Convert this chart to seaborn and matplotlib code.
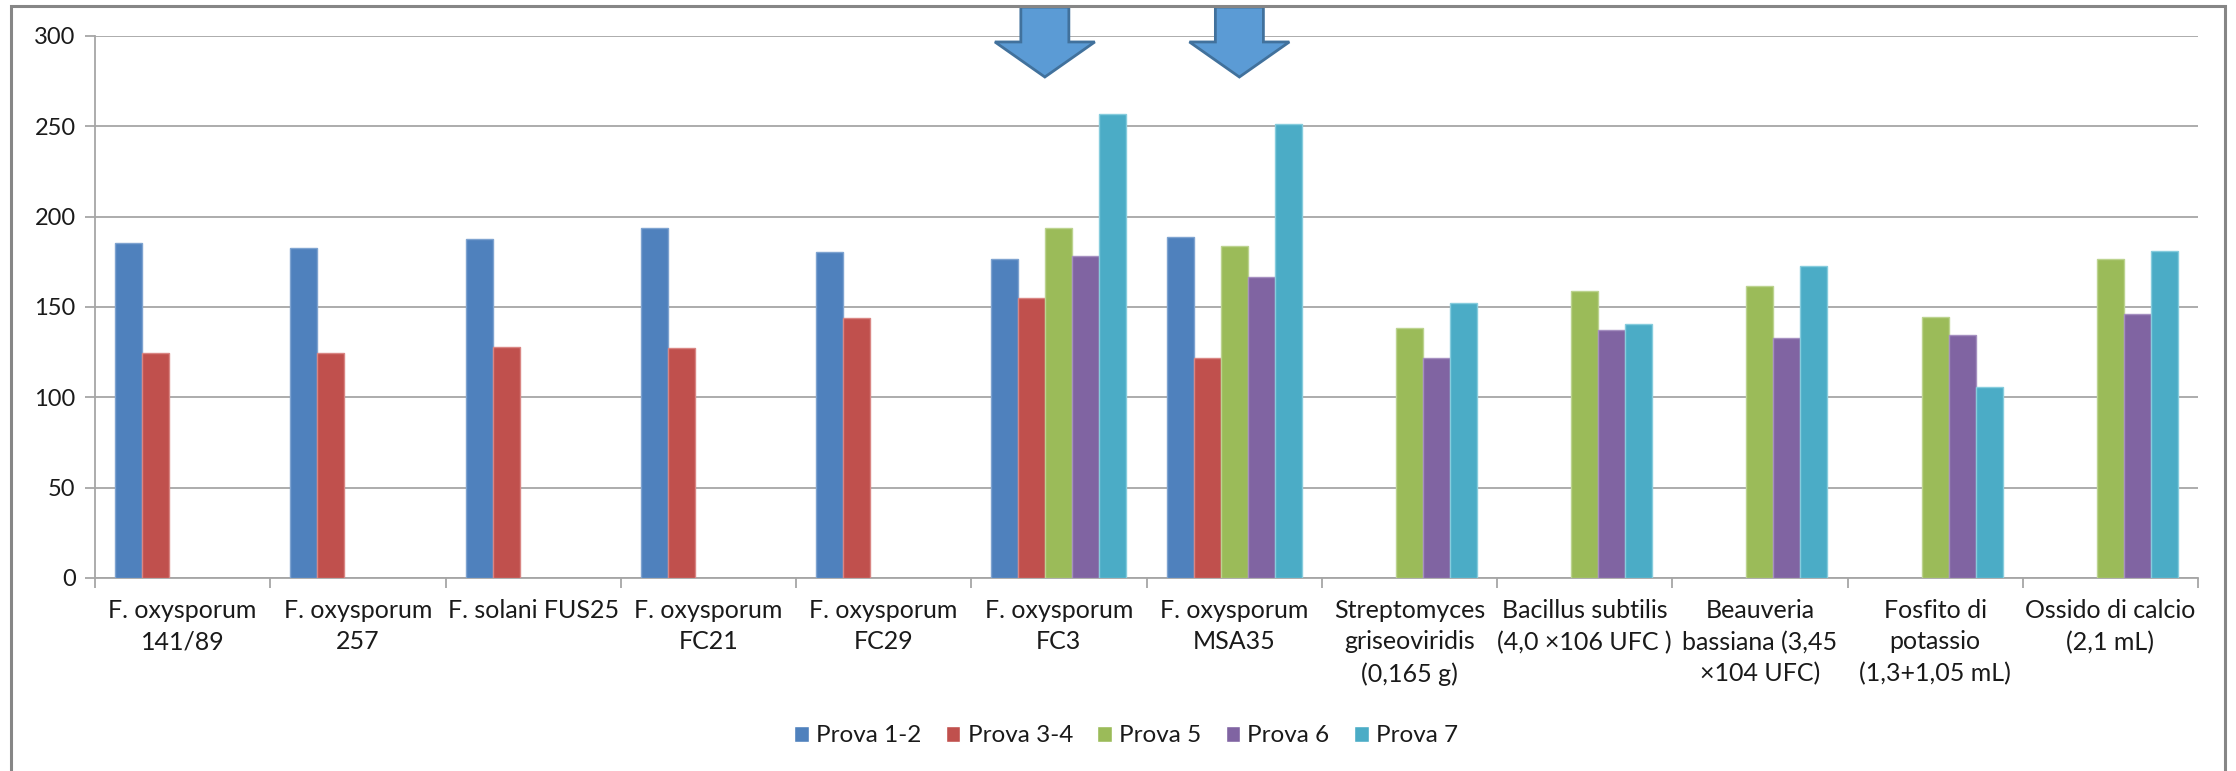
import matplotlib
matplotlib.use("Agg")
import matplotlib.pyplot as plt
from matplotlib.patches import Polygon, Rectangle
import numpy as np
import pandas as pd
import seaborn as sns

# Categories (treatments) shown on the x axis
categorie = [
    "F. oxysporum\n141/89",
    "F. oxysporum\n257",
    "F. solani FUS25",
    "F. oxysporum\nFC21",
    "F. oxysporum\nFC29",
    "F. oxysporum\nFC3",
    "F. oxysporum\nMSA35",
    "Streptomyces\ngriseoviridis\n(0,165 g)",
    "Bacillus subtilis\n(4,0 ×106 UFC )",
    "Beauveria\nbassiana (3,45\n×104 UFC)",
    "Fosfito di\npotassio\n(1,3+1,05 mL)",
    "Ossido di calcio\n(2,1 mL)",
]

prove = ["Prova 1-2", "Prova 3-4", "Prova 5", "Prova 6", "Prova 7"]

# Values per trial (None = trial not carried out for that treatment)
prova_1_2 = [185.4, 182.5, 187.5, 193.9, 180.5, 176.8, 188.8, None, None, None, None, None]
prova_3_4 = [124.4, 124.4, 128.0, 127.1, 144.0, 154.8, 121.6, None, None, None, None, None]
prova_5 = [None, None, None, None, None, 193.7, 183.8, 138.5, 159.0, 161.8, 144.3, 176.4]
prova_6 = [None, None, None, None, None, 178.2, 166.8, 121.6, 137.1, 132.8, 134.3, 146.0]
prova_7 = [None, None, None, None, None, 256.8, 251.1, 152.4, 140.6, 172.5, 105.9, 181.2]

colori = ["#4F81BD", "#C0504D", "#9BBB59", "#8064A2", "#4BACC6"]
bordi = ["#7EA3D0", "#D98583", "#BCD38F", "#A58FC0", "#86CCDD"]

serie = [prova_1_2, prova_3_4, prova_5, prova_6, prova_7]
righe = []
for nome, valori in zip(prove, serie):
    for cat, v in zip(categorie, valori):
        if v is not None:
            righe.append({"categoria": cat, "prova": nome, "valore": v})
df = pd.DataFrame(righe)

sns.set_style("white")
plt.rcParams["font.family"] = ["Lato", "DejaVu Sans"]

W, H = 2236, 771
fig = plt.figure(figsize=(W / 100, H / 100), dpi=100)
ax = fig.add_axes([95 / W, 1 - 578 / H, (2198 - 95) / W, (578 - 36) / H])

sns.barplot(
    data=df, x="categoria", y="valore", hue="prova",
    order=categorie, hue_order=prove, palette=colori,
    width=0.77, errorbar=None, ax=ax, zorder=3, saturation=1,
)

# light outline on each bar, coloured per series
for cont, bc in zip(ax.containers, bordi):
    for p in cont:
        p.set_edgecolor(bc)
        p.set_linewidth(1.0)

ax.set_xlim(-0.5, len(categorie) - 0.5)
ax.set_ylim(0, 300)
ax.set_yticks(np.arange(0, 301, 50))
ax.set_xlabel("")
ax.set_ylabel("")

grid_c = "#A6A6A6"
ax.yaxis.grid(True, color=grid_c, linewidth=1.3, zorder=0)
ax.xaxis.grid(False)
for s in ["top", "right"]:
    ax.spines[s].set_visible(False)
for s in ["left", "bottom"]:
    ax.spines[s].set_visible(True)
    ax.spines[s].set_color(grid_c)
    ax.spines[s].set_linewidth(1.3)

ax.tick_params(axis="y", which="major", direction="out", length=7, width=1.3,
               color=grid_c, labelsize=17, labelcolor="#1a1a1a", pad=7, left=True)
ax.set_xticks(np.arange(len(categorie)))
ax.set_xticklabels(categorie, fontsize=18, color="#1a1a1a", linespacing=1.45, va="top")
ax.tick_params(axis="x", which="major", length=0, pad=15)
ax.set_xticks(np.arange(-0.5, len(categorie), 1.0), minor=True)
ax.tick_params(axis="x", which="minor", direction="out", length=7, width=1.3,
               color=grid_c, bottom=True)

# legend below the axis
handles, labels = ax.get_legend_handles_labels()
ax.legend(handles, labels, ncol=5, loc="center", frameon=False,
          bbox_to_anchor=(1126 / W, 1 - 736 / H), bbox_transform=fig.transFigure,
          fontsize=17.5, handlelength=0.6, handleheight=0.6, handletextpad=0.3,
          columnspacing=1.0, labelcolor="#1a1a1a")


def freccia(xc, y_top=316, y_shaft=296.7, y_tip=277.3, half_shaft=0.137, half_head=0.285):
    pts = [
        (xc - half_shaft, y_top), (xc + half_shaft, y_top),
        (xc + half_shaft, y_shaft), (xc + half_head, y_shaft),
        (xc, y_tip),
        (xc - half_head, y_shaft), (xc - half_shaft, y_shaft),
    ]
    ax.add_patch(Polygon(pts, closed=True, facecolor="#5B9BD5", edgecolor="#41719C",
                         linewidth=2, clip_on=False, zorder=5))


# arrows pointing at the two highlighted strains
freccia(4.92)
freccia(6.03)

# outer chart frame
fig.add_artist(Rectangle((11 / W, -0.05), (2225 - 11) / W, 1.05 - 6 / H,
                         transform=fig.transFigure, fill=False,
                         edgecolor="#868686", linewidth=2.2))

fig.savefig("out.png", dpi=100, facecolor="white")
